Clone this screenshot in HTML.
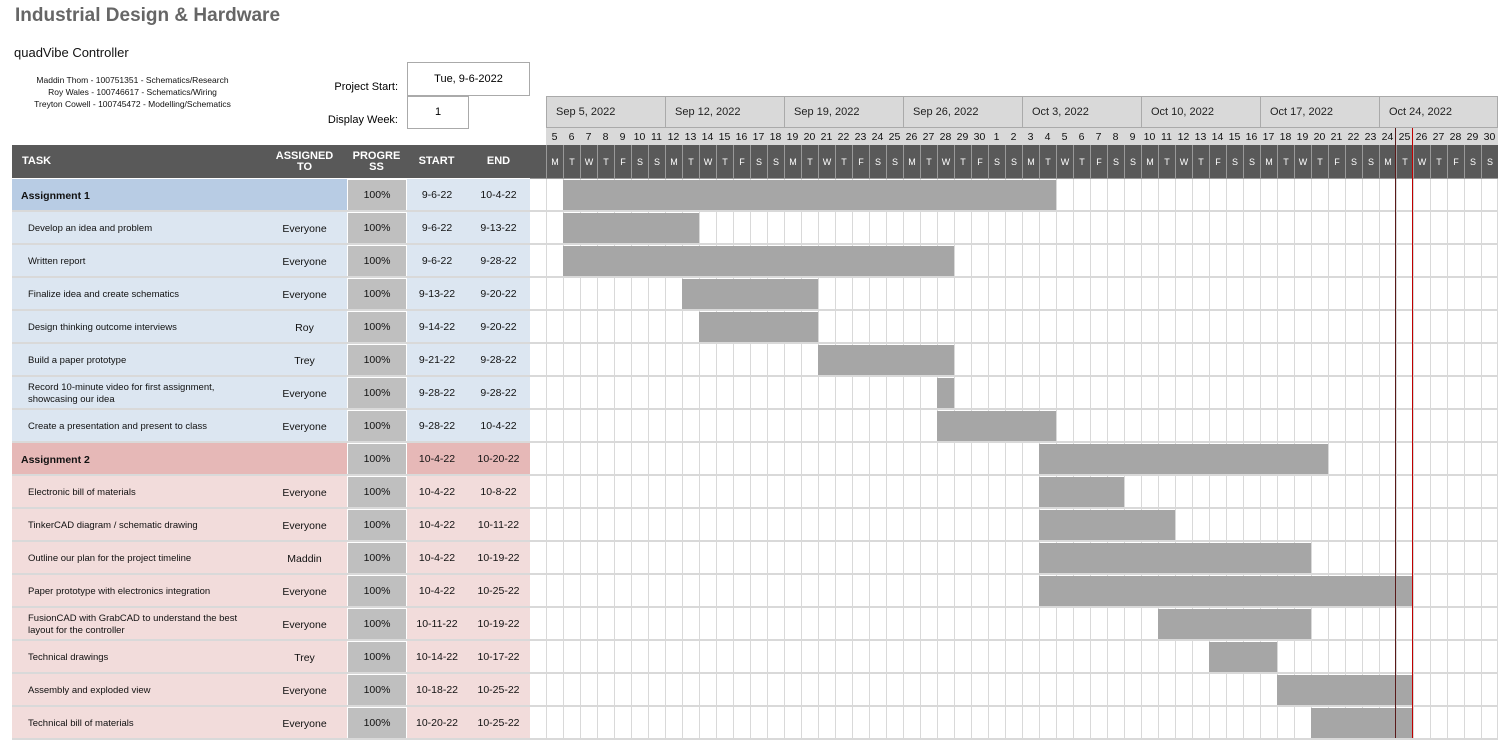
<!DOCTYPE html>
<html><head><meta charset="utf-8">
<style>
body{margin:0;width:1499px;height:741px;background:#fff;position:relative;overflow:hidden;font-family:"Liberation Sans",sans-serif;}
.a{position:absolute;box-sizing:border-box;}
.t{font-size:10px;color:#111;display:flex;align-items:center;}
</style></head><body>
<div class="a" style="left:15px;top:5px;font-size:19px;font-weight:bold;color:#666;">Industrial Design &amp; Hardware</div>
<div class="a" style="left:14px;top:45px;font-size:13px;color:#111;">quadVibe Controller</div>
<div class="a" style="left:10px;top:74px;width:245px;text-align:center;font-size:8.5px;line-height:12px;color:#111;">Maddin Thom - 100751351 - Schematics/Research<br>Roy Wales - 100746617 - Schematics/Wiring<br>Treyton Cowell - 100745472 - Modelling/Schematics</div>
<div class="a" style="left:300px;top:81px;width:98px;text-align:right;font-size:11px;">Project Start:</div>
<div class="a" style="left:407px;top:62px;width:123px;height:34px;border:1px solid #aaa;font-size:11px;text-align:center;line-height:32px;">Tue, 9-6-2022</div>
<div class="a" style="left:300px;top:114px;width:98px;text-align:right;font-size:11px;">Display Week:</div>
<div class="a" style="left:407px;top:96px;width:62px;height:33px;border:1px solid #aaa;font-size:11px;text-align:center;line-height:31px;">1</div>
<div id="g"></div>
<script>
const tasks=["Assignment 1","Develop an idea and problem","Written report","Finalize idea and create schematics","Design thinking outcome interviews","Build a paper prototype","Record 10-minute video for first assignment, showcasing our idea","Create a presentation and present to class","Assignment 2","Electronic bill of materials","TinkerCAD diagram / schematic drawing","Outline our plan for the project timeline","Paper prototype with electronics integration","FusionCAD with GrabCAD to understand the best layout for the controller","Technical drawings","Assembly and exploded view","Technical bill of materials"];
const assignees=["","Everyone","Everyone","Everyone","Roy","Trey","Everyone","Everyone","","Everyone","Everyone","Maddin","Everyone","Everyone","Trey","Everyone","Everyone"];
const progress=[100,100,100,100,100,100,100,100,100,100,100,100,100,100,100,100,100];
const starts=["9-6-22","9-6-22","9-6-22","9-13-22","9-14-22","9-21-22","9-28-22","9-28-22","10-4-22","10-4-22","10-4-22","10-4-22","10-4-22","10-11-22","10-14-22","10-18-22","10-20-22"];
const ends=["10-4-22","9-13-22","9-28-22","9-20-22","9-20-22","9-28-22","9-28-22","10-4-22","10-20-22","10-8-22","10-11-22","10-19-22","10-25-22","10-19-22","10-17-22","10-25-22","10-25-22"];
const group=[1,0,0,0,0,0,0,0,1,0,0,0,0,0,0,0,0];
const weekLabels=["Sep 5, 2022","Sep 12, 2022","Sep 19, 2022","Sep 26, 2022","Oct 3, 2022","Oct 10, 2022","Oct 17, 2022","Oct 24, 2022"];
const dayLetters=["M","T","W","T","F","S","S"];
const today="10-25-22";

const G=document.getElementById('g');
const X0=546,DW=17,Y0=179,RH=33;
const base=new Date(2022,8,5);
function idx(s){const p=s.split('-');const d=new Date(2000+ +p[2],p[0]-1,+p[1]);return Math.round((d-base)/86400000);}
function xd(i){return X0+i*DW;}
function yr(r){return Y0+r*RH;}
function box(l,t,w,h,st,txt,cls){const d=document.createElement('div');d.className='a'+(cls?' '+cls:'');d.style.cssText=`left:${l}px;top:${t}px;width:${w}px;height:${h}px;`+st;if(txt!==undefined)d.textContent=txt;G.appendChild(d);return d;}

let h=box(12,145,1486,33,'background:#595959;');


const hs='color:#fff;font-weight:bold;font-size:11px;text-align:center;justify-content:center;line-height:11px;';
[[12,250,'TASK','header-task','justify-content:flex-start;padding-left:10px;'],[262,85,'ASSIGNED\nTO','header-assigned',''],[347,59,'PROGRE\nSS','header-progress',''],[406,61,'START','header-start',''],[467,63,'END','header-end','']].forEach(c=>{
 const d=box(c[0],145,c[1],33,hs+'white-space:pre;'+c[4],c[2],'t');
 
 
});
weekLabels.forEach((w,i)=>{
 const d=box(xd(i*7),96,7*DW,32,'background:#d9d9d9;border:1px solid #aaa;border-right:none;font-size:11px;padding-left:9px;color:#222;',w,'t');
 
 
});
box(xd(56)-1,96,1,32,'background:#aaa;');
const nDays=56;
for(let i=0;i<nDays;i++){
 const dt=new Date(base.getTime()+i*86400000);
 const n=box(xd(i),128,DW,17,'background:#d9d9d9;font-size:10.5px;justify-content:center;color:#111;',String(dt.getDate()),'t');
 
 
 const l=box(xd(i),145,DW,33,'border-left:1px solid #999;font-size:9px;color:#fff;justify-content:center;',dayLetters[i%7],'t');
 
 
}
tasks.forEach((t,r)=>{
 const y=yr(r);const g=group[r];const a2=r>=8;
 const bg=g?(a2?'#e6b8b7':'#b8cce4'):(a2?'#f2dcdb':'#dce6f1');
 const bg2=g?(a2?'#e6b8b7':'#dce6f1'):bg;
 const row=box(12,y,518,RH,'');
 
 
 box(12,y,335,31,`background:${bg};`);
 const tn=box(12,y+1,250,31,`padding-left:${g?9:16}px;font-size:${g?10.5:9.5}px;${g?'font-weight:bold;':''}line-height:12px;padding-right:20px;`,t,'t');
 
 
 const as=box(262,y+1,85,31,'justify-content:center;font-size:10.5px;',assignees[r],'t');
 
 
 const pr=box(348,y+1,58,30,'background:#bfbfbf;justify-content:center;font-size:10.5px;',progress[r]+'%','t');
 
 
 const sc=box(407,y,60,31,`background:${bg2};justify-content:center;font-size:10.5px;`,starts[r],'t');
 
 
 const ec=box(467,y,63,31,`background:${bg2};justify-content:center;font-size:10.5px;`,ends[r],'t');
 
 
 for(let i=0;i<nDays;i++) box(xd(i),y,1,RH,'background:#d9d9d9;');
 box(xd(nDays)-1,y,1,RH,'background:#d9d9d9;');
 box(530,y+31,968,2,'background:#d9d9d9;');
 box(12,y+31,518,2,'background:#d9d9d9;');
 const s=idx(starts[r]),e=idx(ends[r]);
 const b=box(xd(s),y+1,(e-s+1)*DW,30,'background:#a6a6a6;');
 
 
});
box(530,178,968,1,'background:#999;');
const ti=idx(today);
const tl=box(xd(ti)-1,128,1,yr(17)-128-2,'background:#5a1a1a;');


const tr=box(xd(ti+1)-1,128,1,yr(17)-128-2,'background:#c00000;');


</script>
</body></html>
